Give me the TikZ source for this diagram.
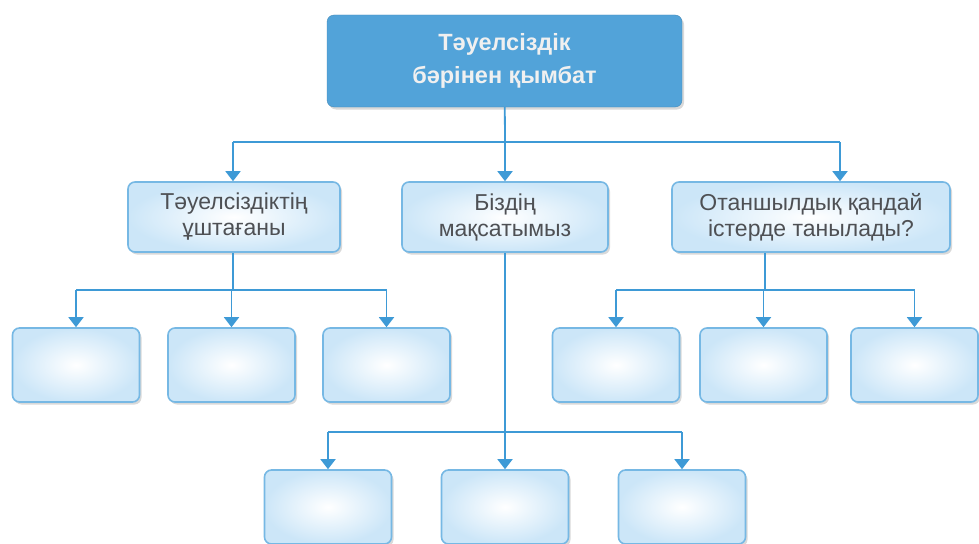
\documentclass[tikz,border=0pt]{standalone}
\usepackage{fontspec}
\setmainfont{Liberation Sans}
\usetikzlibrary{arrows.meta,shadows}
\definecolor{linkblue}{RGB}{62,154,214}
\definecolor{headblue}{RGB}{82,163,217}
\definecolor{boxedge}{RGB}{118,184,228}
\definecolor{boxfill}{RGB}{204,230,248}
\definecolor{textgray}{RGB}{78,80,84}
\tikzset{
 head/.style={rounded corners=7pt, fill=headblue, draw=headblue!85!black, text=white!94!black,
  align=center, font=\bfseries\fontsize{23.5}{33}\selectfont,
  minimum width=355pt, minimum height=92pt,
  drop shadow={opacity=.3, shadow xshift=2pt, shadow yshift=-2.5pt}},
 topic/.style={rounded corners=7pt, draw=boxedge, line width=1.6pt,
  inner color=white, outer color=boxfill, text=textgray,
  align=center, font=\fontsize{23}{26}\selectfont, minimum height=70pt,
  drop shadow={opacity=.3, shadow xshift=2pt, shadow yshift=-2.5pt}},
 blank/.style={topic, minimum width=127pt, minimum height=74pt},
 link/.style={draw=linkblue, line width=1.8pt},
 >={Triangle[width=15pt,length=10pt]}
}
\begin{document}
\begin{tikzpicture}[x=1pt, y=-1pt, line join=round]
 \useasboundingbox (0,0) rectangle (979,543);
 \clip (0,0) rectangle (979,543);
 \node[head] (tauelsizdik) at (504.5,61) {Тәуелсіздік\\бәрінен қымбат};
 \node[topic, minimum width=212pt] (ustagany) at (234,217) {Тәуелсіздіктің\\ұштағаны};
 \node[topic, minimum width=206pt] (maksat) at (505,217) {Біздің\\мақсатымыз};
 \node[topic, minimum width=278pt] (otan) at (811,217) {Отаншылдық қандай\\істерде танылады?};
 \path
  (76,365) node[blank] (u1) {}
  (231.5,365) node[blank] (u2) {}
  (386.5,365) node[blank] (u3) {}
  (616,365) node[blank] (o1) {}
  (763.5,365) node[blank] (o2) {}
  (914.5,365) node[blank] (o3) {}
  (328,507) node[blank] (m1) {}
  (505,507) node[blank] (m2) {}
  (682,507) node[blank] (m3) {};
 \coordinate (hub) at (505,142);
 \coordinate (hubL) at (233,142);
 \coordinate (hubR) at (840,142);
 \coordinate (uhub) at (233,290);
 \coordinate (ohub) at (765,290);
 \coordinate (mhub) at (505,432);
 \draw[link] (tauelsizdik) -- (hub);
 \draw[link] (hubL) -- (hubR);
 \draw[link,->] (hubL) -- (hubL |- ustagany.north);
 \draw[link,->] (hub) -- (maksat);
 \draw[link,->] (hubR) -- (hubR |- otan.north);
 \draw[link] (ustagany.south -| uhub) -- (uhub);
 \draw[link] (u1 |- uhub) -- (u3 |- uhub);
 \foreach \b in {u1,u2,u3} \draw[link,->] (\b |- uhub) -- (\b);
 \draw[link] (otan.south -| ohub) -- (ohub);
 \draw[link] (o1 |- ohub) -- (o3 |- ohub);
 \foreach \b in {o1,o2,o3} \draw[link,->] (\b |- ohub) -- (\b);
 \draw[link] (maksat) -- (mhub);
 \draw[link] (m1 |- mhub) -- (m3 |- mhub);
 \foreach \b in {m1,m2,m3} \draw[link,->] (\b |- mhub) -- (\b);
\end{tikzpicture}
\end{document}
